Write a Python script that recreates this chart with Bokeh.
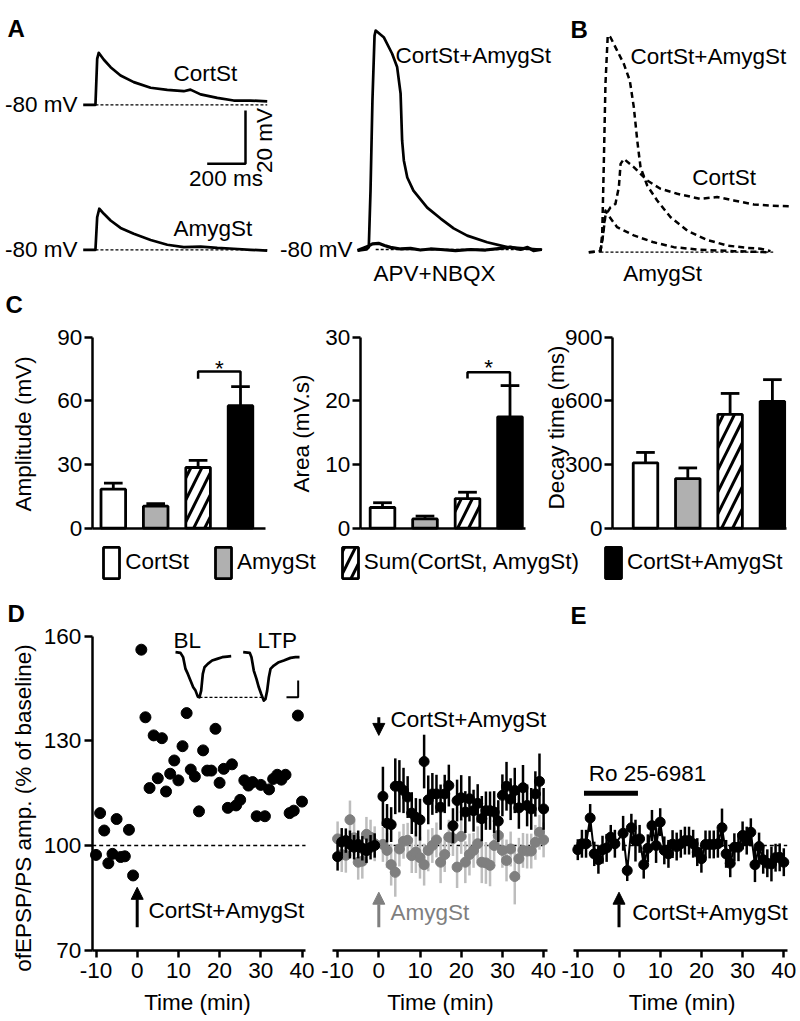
import math
from bokeh.plotting import figure
from bokeh.models import (Range1d, Label, Arrow, NormalHead, FixedTicker, LinearAxis,
                          Legend, LegendItem, ColumnDataSource)
from bokeh.core.properties import field
from bokeh.embed import file_html
from bokeh.resources import INLINE

FONT = "Liberation Sans"
FS = "22.5px"
LETTER_FS = "24px"
GREY_BAR = "#b0b0b0"
GREY_DOT = "#7f7f7f"
GREY_ERR = "#bdbdbd"

# ===================================================================== DATA
# ---- Panel A: example sweeps (time in ms from sweep start, potential in mV)
rest_mv = -80
a_cort_t = [0, 64, 73, 81, 108, 143, 195, 264, 352, 439, 525, 560, 613, 700, 786, 874, 961]
a_cort_v = [-80, -80, -62.8, -60.5, -63.1, -65.9, -69.0, -71.5, -73.6, -74.4, -74.9, -74.3,
            -76.1, -77.4, -78.4, -78.4, -78.7]
a_amyg_t = [0, 64, 73, 84, 108, 143, 195, 264, 352, 439, 525, 613, 700, 786, 874, 961]
a_amyg_v = [-80, -80, -67.8, -64.6, -66.5, -69.0, -71.8, -74.0, -76.3, -78.1, -79.0, -78.8,
            -79.3, -79.6, -80.0, -80.3]
a_both_t = [0, 47, 59, 68, 78, 89, 95, 137, 181, 207, 225, 233, 242, 260, 292, 364, 434, 502,
            573, 677, 782, 886, 964]
a_both_v = [-80.4, -80, -79.2, -57.9, -24.1, 0.2, 2.1, -0.4, -6.6, -11.6, -21.5, -39.1, -46.6,
            -53.0, -57.9, -64.3, -68.4, -72.1, -74.8, -77.3, -79.1, -79.7, -80.1]
a_apv_t = [0, 26, 52, 78, 110, 141, 172, 225, 277, 329, 381, 434, 512, 590, 669, 747, 799, 851,
           888, 919, 961]
a_apv_v = [-80.4, -79.6, -78.9, -77.9, -77.7, -78.5, -79.2, -79.8, -79.6, -80.2, -79.8, -80.0,
           -80.4, -80.0, -80.2, -79.6, -79.1, -80.0, -79.2, -80.4, -80.0]
# ---- Panel B: dashed sweeps (ms, mV)
b_both_t = [0, 61, 70, 78, 87, 99, 113, 148, 183, 214, 235, 253, 270, 305, 357, 427, 514, 618,
            723, 827, 897, 949]
b_both_v = [-80, -79.6, -73.1, -48.1, -16.9, 1.3, 0.6, -4.4, -9.4, -15.6, -25.6, -38.1, -48.1,
            -55.0, -60.6, -66.9, -71.9, -75.4, -77.5, -78.4, -78.7, -79.6]
b_cort_t = [61, 74, 87, 113, 139, 157, 166, 183, 235, 305, 374, 462, 583, 670, 757, 862, 949, 1044]
b_cort_v = [-79.6, -73.7, -66.2, -63.2, -61.9, -55.6, -46.9, -45.0, -48.1, -53.1, -56.2, -58.1,
            -60.0, -59.3, -60.6, -62.1, -62.5, -62.8]
b_amyg_t = [0, 61, 74, 87, 96, 148, 235, 339, 444, 583, 757, 932]
b_amyg_v = [-80, -79.6, -73.7, -64.4, -65.6, -70.6, -73.7, -76.3, -78.1, -79.1, -79.6, -80]

# ---- Panel C: mean and SEM per group
groups = ["CortSt", "AmygSt", "Sum(CortSt, AmygSt)", "CortSt+AmygSt"]
amp_mean = [18.4, 10.4, 28.6, 57.7]
amp_sem = [2.8, 1.2, 3.4, 9.0]
area_mean = [3.25, 1.46, 4.66, 17.5]
area_sem = [0.75, 0.44, 0.99, 4.9]
decay_mean = [308, 234, 536, 598]
decay_sem = [49, 50, 99, 102]

# ---- Panels D / E: time course (min), % of baseline
time_min = list(range(-10, 0)) + list(range(1, 41))
d_ltp = [97.3, 109.3, 104.3, 94.9, 97.6, 107.6, 96.7, 96.9, 104.5, 91.4,
         156.2, 136.8, 116.5, 131.6, 119.3, 130.8, 115.5, 120.6, 124.4, 118.7,
         128.5, 138.0, 121.8, 119.8, 109.8, 127.3, 121.5, 121.5, 133.5, 118.0,
         122.0, 110.8, 123.3, 111.5, 113.1, 118.7, 117.2, 118.2, 108.4, 117.4,
         108.4, 116.1, 119.1, 120.3, 118.9, 120.3, 109.3, 110.0, 137.3, 112.6]
mid_both = [96.8, 101.0, 101.4, 100.3, 99.5, 100.3, 99.2, 98.5, 99.5, 100.0,
            114.1, 106.4, 106.0, 117.0, 117.0, 115.8, 113.9, 109.3, 108.1, 107.4,
            124.1, 113.1, 114.8, 114.8, 111.0, 114.8, 117.2, 105.7, 112.9, 113.7,
            109.6, 113.4, 110.0, 112.1, 107.7, 110.0, 110.0, 109.6, 107.0, 114.4,
            117.0, 113.3, 115.8, 110.8, 116.6, 111.5, 110.5, 114.8, 118.4, 110.5]
mid_both_sem = [4, 4, 3.5, 4, 3.5, 4, 3.5, 3.5, 3.5, 3.5,
                8.5, 5.5, 5, 8, 7.5, 6.5, 6, 6, 5.5, 6,
                7.7, 7, 6, 5.5, 6.5, 5.5, 6, 5, 6, 6.5,
                6, 6.5, 6, 5.5, 6.5, 5.5, 5.5, 6, 6, 6,
                7, 6, 6.5, 6, 6.5, 6, 6, 6.5, 8, 6]
mid_amyg = [101.9, 97.4, 97.2, 107.4, 102.2, 95.2, 95.5, 103.2, 102.4, 100.5,
            100.3, 98.6, 94.5, 92.3, 99.0, 101.2, 101.5, 97.1, 98.1, 96.5,
            94.5, 98.6, 100.0, 101.6, 95.2, 97.4, 102.4, 102.0, 93.8, 102.6,
            95.2, 97.4, 98.6, 100.5, 95.2, 95.0, 94.3, 100.0, 102.9, 98.6,
            95.7, 99.0, 91.1, 96.2, 98.6, 98.4, 98.4, 100.9, 103.8, 101.6]
mid_amyg_sem = [5, 5, 5, 5.5, 5, 5, 5, 5, 5, 5,
                5, 5, 6, 7, 5, 5, 5, 5, 6, 6,
                6, 6, 5, 5, 6, 5, 5, 5, 6, 5,
                6, 6, 5, 5, 6, 6, 6, 5, 5, 5,
                6, 5, 8, 6, 5, 5, 5, 5, 5, 5]
e_ro = [98.8, 100.5, 100.5, 107.9, 97.6, 95.9, 98.8, 99.3, 102.4, 100.5,
        103.5, 92.8, 105.1, 101.4, 101.9, 94.5, 99.2, 105.7, 100.0, 106.7,
        98.6, 97.6, 100.4, 99.7, 100.5, 101.4, 101.4, 100.5, 98.1, 96.2,
        100.3, 100.3, 100.3, 100.5, 105.1, 97.6, 94.9, 99.5, 99.5, 102.9,
        101.4, 103.8, 94.5, 99.7, 95.9, 94.9, 94.7, 96.5, 96.6, 95.2]
e_ro_sem = [3, 4, 4, 4, 3.5, 4, 4, 4, 3.5, 4,
            5, 3, 4, 6, 4, 4, 4, 4.5, 5, 4,
            4, 4, 4, 4, 4, 4, 4, 4, 4, 4,
            4, 4, 4, 4, 5.5, 4, 4, 4, 4, 4,
            4, 4, 5, 4, 4, 4, 5, 4, 4, 4]
# D inset sweeps (ms, mV)
bl_t = [0, 0.85, 1.31, 1.71, 2.11, 2.56, 3.03, 3.42, 3.81, 4.10, 4.39, 4.67, 4.96, 5.52, 6.26,
        7.12, 7.98, 8.84, 9.52]
bl_v = [0, -0.02, -0.15, -0.5, -0.65, -0.85, -1.05, -1.15, -1.33, -1.35, -1.15, -0.65, -0.45,
        -0.35, -0.25, -0.20, -0.15, -0.13, -0.12]
ltp_t = [0, 1.13, 1.42, 1.81, 2.27, 2.67, 3.08, 3.52, 3.81, 4.10, 4.39, 4.67, 5.24, 6.09, 6.95,
         8.09, 8.94, 9.63]
ltp_v = [0, -0.02, -0.15, -0.55, -0.80, -1.05, -1.25, -1.45, -1.40, -1.15, -0.75, -0.50, -0.40,
         -0.30, -0.25, -0.17, -0.15, -0.15]
ltp_offset_ms = 11.57

# ================================================================ CANVAS
W, H = 800, 1021
OX, OY = 0, 0

p = figure(width=W, height=H, output_backend="svg", toolbar_location=None, title=None,
           x_axis_location=None, y_axis_location=None, min_border=0,
           x_range=Range1d(OX, OX + W), y_range=Range1d(OY + H, OY))
p.outline_line_color = None
p.grid.visible = False
p.background_fill_color = "white"
p.border_fill_color = "white"

XR, YR = {}, {}


def xr(name, v0, ref_x, s):
    """x range in which value v0 lands on page pixel ref_x, with s px per unit"""
    start = v0 - (ref_x - OX) / s
    XR[name] = Range1d(start=start, end=start + W / s)


def yr(name, v0, ref_y, s):
    end = v0 + (ref_y - OY) / s
    YR[name] = Range1d(start=end - H / s, end=end)


def xv(name, ref_x):
    r = XR[name]
    return r.start + (ref_x - OX) * (r.end - r.start) / W


MS, MV = 0.1915, 2.667          # px per ms, px per mV (sweeps)
xr("a1x", 0, 82.7, MS); yr("a1y", rest_mv, 104.3, MV); yr("a1by", rest_mv, 249.3, MV)
xr("a2x", 0, 357, MS); yr("a2y", rest_mv, 249, MV)
xr("bx", 0, 588.3, MS); yr("by", rest_mv, 251.7, MV)
C_Y0, C_H = 527.7, 191.0        # bar charts: zero line and axis height (px)
xr("c1x", 0, 112.8, 42.4); yr("c1y", 0, C_Y0, C_H / 90)
xr("c2x", 0, 382.0, 42.5); yr("c2y", 0, C_Y0, C_H / 30)
xr("c3x", 0, 645.0, 42.3); yr("c3y", 0, C_Y0, C_H / 900)
PCT, MINPX = 3.484, 4.12        # px per %, px per min
yr("ty", 100, 845, PCT)
xr("dx", 0, 136.7, MINPX); xr("mx", 0, 378.3, MINPX); xr("ex", 0, 618.5, MINPX)
xr("insx", 0, 175, 5.85); yr("insy", 0, 651.7, 33.4)
p.extra_x_ranges = XR
p.extra_y_ranges = YR


def lab(x, y, text, align="left", baseline="middle", color="black", angle=0, bold=False,
        xn="default", yn="default", size=None):
    p.add_layout(Label(x=x, y=y, text=text, text_align=align, text_baseline=baseline,
                       text_font=FONT, text_font_size=size or (LETTER_FS if bold else FS),
                       text_font_style="bold" if bold else "normal", text_color=color,
                       angle=angle, x_range_name=xn, y_range_name=yn))


def style_axis(ax, tick_out, standoff):
    ax.axis_line_width = 2.5
    ax.axis_line_color = "black"
    ax.major_tick_line_width = 2.5
    ax.major_tick_line_color = "black"
    ax.minor_tick_line_color = None
    ax.major_tick_in = 0
    ax.major_tick_out = tick_out
    ax.major_label_standoff = standoff
    ax.major_label_text_font = FONT
    ax.major_label_text_font_size = FS
    ax.major_label_text_color = "black"


def add_yaxis(xn, yn, ref_x, ticks, bounds, tick_out=8, standoff=2):
    ax = LinearAxis(x_range_name=xn, y_range_name=yn, fixed_location=xv(xn, ref_x),
                    bounds=bounds, ticker=FixedTicker(ticks=ticks))
    style_axis(ax, tick_out, standoff)
    p.add_layout(ax, "left")


def add_xaxis(xn, yn, y_loc, ticks, bounds, tick_out=7, standoff=6):
    ax = LinearAxis(x_range_name=xn, y_range_name=yn, fixed_location=y_loc,
                    bounds=bounds, ticker=FixedTicker(ticks=ticks),
                    major_label_overrides={t: str(t) for t in ticks})
    style_axis(ax, tick_out, standoff)
    p.add_layout(ax, "below")


# ================================================================ A, B
TR = dict(line_color="black", line_width=2.7, line_join="round")
BASE = dict(line_color="black", line_width=1.3, line_dash="3 2")
DASH = dict(line_color="black", line_width=2.5, line_dash="6 4", line_join="round")

p.line([a_cort_t[1], a_cort_t[-1]], [rest_mv] * 2, x_range_name="a1x", y_range_name="a1y", **BASE)
p.line(a_cort_t, a_cort_v, x_range_name="a1x", y_range_name="a1y", **TR)
p.line([a_amyg_t[1], a_amyg_t[-1]], [rest_mv] * 2, x_range_name="a1x", y_range_name="a1by", **BASE)
p.line(a_amyg_t, a_amyg_v, x_range_name="a1x", y_range_name="a1by", **TR)
sb_ms, sb_mv, sb_x, sb_y = 200, 20, 847.5, -102.1      # scale bar 200 ms / 20 mV
p.line([sb_x - sb_ms, sb_x, sb_x], [sb_y, sb_y, sb_y + sb_mv], x_range_name="a1x",
       y_range_name="a1y", line_color="black", line_width=2.5)
lab(7, 28, "A", bold=True)
lab(471.5, -68.2, "CortSt", xn="a1x", yn="a1y")
lab(471.5, -72.0, "AmygSt", xn="a1x", yn="a1by")
lab(-29.8, rest_mv, "-80 mV", align="right", xn="a1x", yn="a1y")
lab(-29.8, rest_mv, "-80 mV", align="right", xn="a1x", yn="a1by")
lab(946, -93.4, "20 mV", align="center", angle=math.pi / 2, xn="a1x", yn="a1y")
lab(745.7, -107.6, "200 ms", align="center", xn="a1x", yn="a1y")

p.line([a_both_t[6], a_both_t[-1]], [rest_mv] * 2, x_range_name="a2x", y_range_name="a2y", **BASE)
p.line(a_both_t, a_both_v, x_range_name="a2x", y_range_name="a2y", **TR)
p.line(a_apv_t, a_apv_v, x_range_name="a2x", y_range_name="a2y", line_color="black",
       line_width=3.2, line_join="round")
lab(198, -7.3, "CortSt+AmygSt", xn="a2x", yn="a2y")
lab(84, -89, "APV+NBQX", xn="a2x", yn="a2y")
lab(-26, rest_mv, "-80 mV", align="right", xn="a2x", yn="a2y")

p.line([b_both_t[1], b_both_t[-1] + 14], [rest_mv] * 2, x_range_name="bx", y_range_name="by", **BASE)
p.line(b_both_t, b_both_v, x_range_name="bx", y_range_name="by", **DASH)
p.line(b_cort_t, b_cort_v, x_range_name="bx", y_range_name="by", **DASH)
p.line(b_amyg_t, b_amyg_v, x_range_name="bx", y_range_name="by", **DASH)
lab(570, 28.5, "B", bold=True)
lab(218, -6.7, "CortSt+AmygSt", xn="bx", yn="by")
lab(540, -51.9, "CortSt", xn="bx", yn="by")
lab(180, -88, "AmygSt", xn="bx", yn="by")

# ================================================================ C
BAR_POS = [0, 1, 2, 3]
BAR_FILL = ["white", GREY_BAR, "white", "black"]
BAR_HATCH = [" ", " ", "/", " "]
BAR_W, CAP = 0.58, 0.22
BAR_STYLE = dict(line_color="black", line_width=2.8, hatch_color="black", hatch_weight=3,
                 hatch_scale=22)


def bar_panel(xn, yn, axis_ref_x, end_ref_x, ymax, yticks, mean, sem, sig=None):
    add_yaxis(xn, yn, axis_ref_x, yticks, (0, ymax))
    add_xaxis(xn, yn, 0, [], (xv(xn, axis_ref_x), xv(xn, end_ref_x)))
    src = ColumnDataSource(dict(x=BAR_POS, top=mean, fill=BAR_FILL, hatch=BAR_HATCH))
    r = p.vbar(x="x", top="top", bottom=0, width=BAR_W, source=src, fill_color=field("fill"),
               hatch_pattern=field("hatch"), x_range_name=xn, y_range_name=yn, **BAR_STYLE)
    tops = [m + e for m, e in zip(mean, sem)]
    p.segment(BAR_POS, mean, BAR_POS, tops, line_color="black", line_width=2.8,
              x_range_name=xn, y_range_name=yn)
    p.segment([x - CAP for x in BAR_POS], tops, [x + CAP for x in BAR_POS], tops,
              line_color="black", line_width=2.8, x_range_name=xn, y_range_name=yn)
    if sig:
        a, b, top, drop, star_y = sig
        p.line([a, a, b, b], [top - drop, top, top, tops[b]], line_color="black",
               line_width=2.5, x_range_name=xn, y_range_name=yn)
        lab((a + b) / 2, star_y, "*", align="center", xn=xn, yn=yn)
    return r


r_c1 = bar_panel("c1x", "c1y", 91.8, 265, 90, [0, 30, 60, 90], amp_mean, amp_sem,
                 sig=(2, 3, 73.8, 3.4, 75.4))
bar_panel("c2x", "c2y", 359.7, 525, 30, [0, 10, 20, 30], area_mean, area_sem,
          sig=(2, 3, 24.5, 1.0, 25.3))
bar_panel("c3x", "c3y", 612, 786, 900, [0, 300, 600, 900], decay_mean, decay_sem)
lab(5, 303.5, "C", bold=True)
lab(23, 433.4, "Amplitude (mV)", align="center", angle=math.pi / 2)
lab(301, 433, "Area (mV.s)", align="center", angle=math.pi / 2)
lab(556, 427, "Decay time (ms)", align="center", angle=math.pi / 2)

legend = Legend(items=[LegendItem(label=g, renderers=[r_c1], index=i)
                       for i, g in enumerate(groups)],
                orientation="horizontal", location=(101.3, 439.5), glyph_width=20,
                glyph_height=39, label_standoff=4, spacing=24, padding=0, margin=0,
                border_line_color=None, background_fill_alpha=0, label_text_font=FONT,
                label_text_font_size=FS, label_text_color="black")
p.add_layout(legend)

# ================================================================ D, E
TIME_TICKS = [-10, 0, 10, 20, 30, 40]
ARROW_LOW = 76.55
HEAD = dict(size=12, line_width=1)


def arrow(xn, y0, y1, color="black"):
    p.add_layout(Arrow(x_start=0, y_start=y0, x_end=0, y_end=y1, line_width=3,
                       line_color=color, x_range_name=xn, y_range_name="ty",
                       end=NormalHead(fill_color=color, line_color=color, **HEAD)))


def baseline100(xn, x0, x1):
    p.line([x0, x1], [100, 100], x_range_name=xn, y_range_name="ty", line_color="black",
           line_width=1.5, line_dash="4 3", level="underlay")


# D left
d_bounds = (xv("dx", 91.7), xv("dx", 305))
add_yaxis("dx", "ty", 91.7, [70, 100, 130, 160], (70, 160), tick_out=8, standoff=3)
add_xaxis("dx", "ty", 70, TIME_TICKS, d_bounds)
baseline100("dx", *d_bounds)
p.scatter(time_min, d_ltp, size=11, marker="circle", fill_color="black", line_color="black",
          x_range_name="dx", y_range_name="ty")
arrow("dx", ARROW_LOW, 88.0)
lab(2.74, 81.3, "CortSt+AmygSt", xn="dx", yn="ty")
lab(7, 612.5, "D", bold=True)
lab(23, 807.5, "ofEPSP/PS amp. (% of baseline)", align="center", angle=math.pi / 2)
lab(197, 1001.5, "Time (min)", align="center")
# inset sweeps
p.line(bl_t, bl_v, x_range_name="insx", y_range_name="insy", **TR)
p.line([t + ltp_offset_ms for t in ltp_t], ltp_v, x_range_name="insx", y_range_name="insy", **TR)
i_bl = bl_v.index(min(bl_v))
i_ltp = ltp_v.index(min(ltp_v))
p.line([bl_t[i_bl], ltp_t[i_ltp] + ltp_offset_ms], [bl_v[i_bl]] * 2, x_range_name="insx",
       y_range_name="insy", **BASE)
ins_sb_ms, ins_sb_mv, ins_sb_x, ins_sb_y = 2, 0.5, 20.97, -1.35
p.line([ins_sb_x - ins_sb_ms, ins_sb_x, ins_sb_x], [ins_sb_y, ins_sb_y, ins_sb_y + ins_sb_mv],
       x_range_name="insx", y_range_name="insy", line_color="black", line_width=2)
lab(2.0, 0.35, "BL", align="center", xn="insx", yn="insy")
lab(17.4, 0.35, "LTP", align="center", xn="insx", yn="insy")

# D middle
m_bounds = (xv("mx", 332), xv("mx", 546.7))
add_xaxis("mx", "ty", 70, TIME_TICKS, m_bounds)
baseline100("mx", -10, m_bounds[1])
p.segment(time_min, [m - e for m, e in zip(mid_amyg, mid_amyg_sem)],
          time_min, [m + e for m, e in zip(mid_amyg, mid_amyg_sem)],
          line_color=GREY_ERR, line_width=2.5, x_range_name="mx", y_range_name="ty")
p.scatter(time_min, mid_amyg, size=10, marker="circle", fill_color=GREY_DOT, line_color=GREY_DOT,
          x_range_name="mx", y_range_name="ty")
p.segment(time_min, [m - e for m, e in zip(mid_both, mid_both_sem)],
          time_min, [m + e for m, e in zip(mid_both, mid_both_sem)],
          line_color="black", line_width=2.5, x_range_name="mx", y_range_name="ty")
p.scatter(time_min, mid_both, size=10, marker="circle", fill_color="black", line_color="black",
          x_range_name="mx", y_range_name="ty")
arrow("mx", 136.8, 131.6)
lab(2.84, 136.3, "CortSt+AmygSt", xn="mx", yn="ty")
arrow("mx", ARROW_LOW, 86.6, color=GREY_DOT)
lab(2.84, 80.9, "AmygSt", color=GREY_DOT, xn="mx", yn="ty")
lab(440, 1001.5, "Time (min)", align="center")

# E
e_bounds = (xv("ex", 573.3), xv("ex", 786.7))
add_xaxis("ex", "ty", 70, TIME_TICKS, e_bounds)
baseline100("ex", *e_bounds)
p.segment(time_min, [m - e for m, e in zip(e_ro, e_ro_sem)],
          time_min, [m + e for m, e in zip(e_ro, e_ro_sem)],
          line_color="black", line_width=2.5, x_range_name="ex", y_range_name="ty")
p.line(time_min, e_ro, line_color="black", line_width=2, x_range_name="ex", y_range_name="ty")
p.scatter(time_min, e_ro, size=10, marker="circle", fill_color="black", line_color="black",
          x_range_name="ex", y_range_name="ty")
drug_on, drug_off, drug_bar_y = -8.5, 4.6, 115.0
p.line([drug_on, drug_off], [drug_bar_y] * 2, line_color="black", line_width=5,
       x_range_name="ex", y_range_name="ty")
lab(-7.33, 120.75, "Ro 25-6981", xn="ex", yn="ty")
arrow("ex", ARROW_LOW, 86.6)
lab(3.2, 80.9, "CortSt+AmygSt", xn="ex", yn="ty")
lab(570, 615, "E", bold=True)
lab(681.7, 1001.5, "Time (min)", align="center")

open("out.html", "w").write(file_html(p, INLINE))
